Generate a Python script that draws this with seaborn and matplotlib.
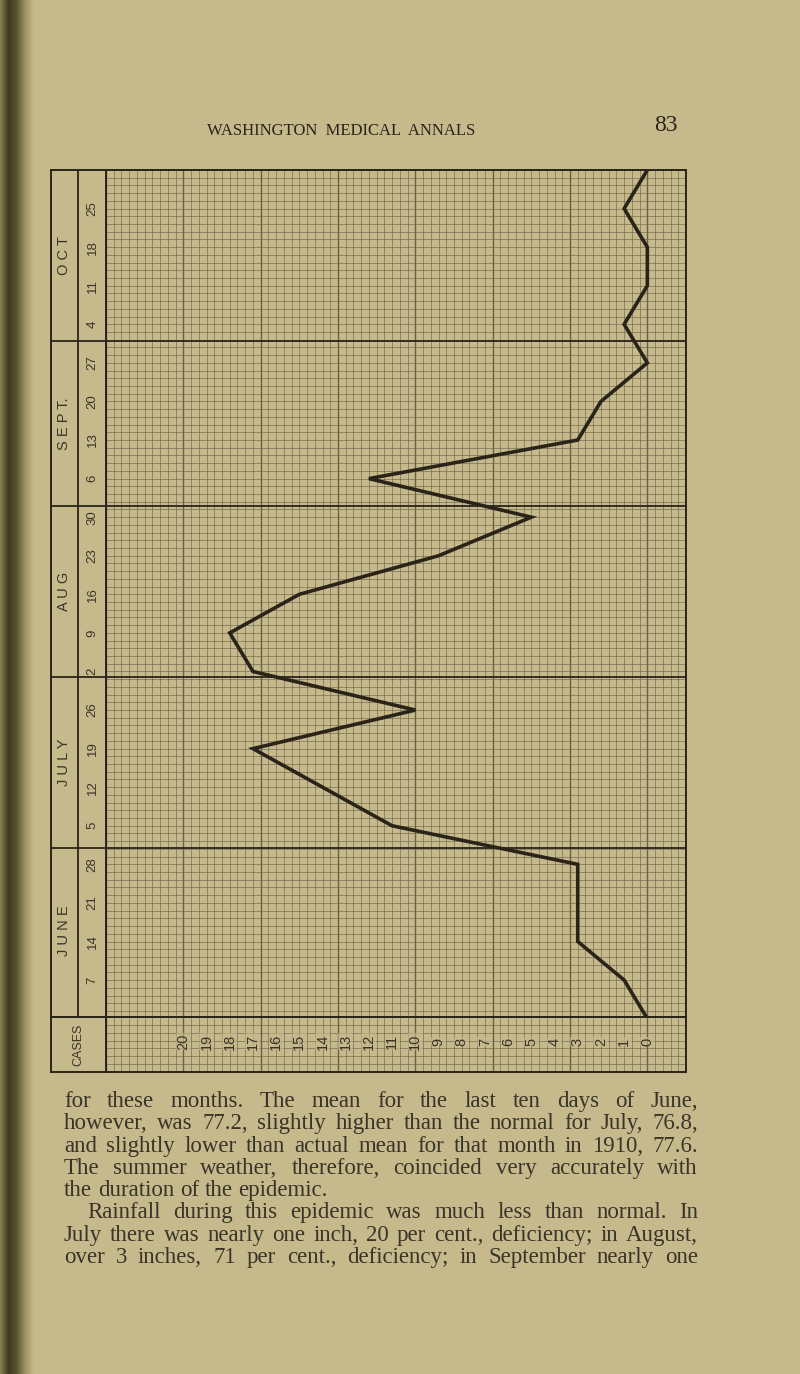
import numpy as np
import pandas as pd
import matplotlib
matplotlib.use('Agg')
import matplotlib.pyplot as plt
import seaborn as sns
from matplotlib.ticker import MultipleLocator
from matplotlib.colors import LinearSegmentedColormap

# weekly cases (time runs bottom -> top)
week_dates = ['1911-05-31', '1911-06-07', '1911-06-14', '1911-06-21', '1911-06-28',
              '1911-07-05', '1911-07-12', '1911-07-19', '1911-07-26',
              '1911-08-02', '1911-08-09', '1911-08-16', '1911-08-23', '1911-08-30',
              '1911-09-06', '1911-09-13', '1911-09-20', '1911-09-27',
              '1911-10-04', '1911-10-11', '1911-10-18', '1911-10-25', '1911-11-01']
weekly_cases = [0, 1, 3, 3, 3, 11, 14, 17, 10, 17, 18, 15, 9, 5, 12, 3, 2, 0, 1, 0, 0, 1, 0]

month_names = ['J U N E', 'J U L Y', 'A U G', 'S E P T.', 'O C T']
month_starts = ['1911-06-01', '1911-07-01', '1911-08-01', '1911-09-01',
                '1911-10-01', '1911-11-01']
case_labels = list(range(20, -1, -1))

header = 'WASHINGTON  MEDICAL  ANNALS'
page_no = '83'
body_lines = [
    'for these months. The mean for the last ten days of June,',
    'however, was 77.2, slightly higher than the normal for July, 76.8,',
    'and slightly lower than actual mean for that month in 1910, 77.6.',
    'The summer weather, therefore, coincided very accurately with',
    'the duration of the epidemic.',
    'Rainfall during this epidemic was much less than normal.  In',
    'July there was nearly one inch, 20 per cent., deficiency; in August,',
    'over 3 inches, 71 per cent., deficiency; in September nearly one',
]

PAPER = '#c6ba8c'
INK = '#2a2318'
GRID = '#6a6146'
TEXT_INK = '#3a3428'

sns.set_theme(style='white')
plt.rcParams['font.family'] = ['Liberation Sans', 'DejaVu Sans']

origin = pd.Timestamp('1911-05-31')
days = (pd.to_datetime(week_dates) - origin).days.values
month_pos = (pd.to_datetime(month_starts) - origin).days.values

W, H = 800, 1374
fig = plt.figure(figsize=(W / 100, H / 100), dpi=100, facecolor=PAPER)


def box(x0, y0, x1, y1):
    return [x0 / W, 1 - y1 / H, (x1 - x0) / W, (y1 - y0) / H]


def fx(px):
    return px / W


def fy(py):
    return 1 - py / H


# binding shadow on the left edge
ax_bind = fig.add_axes([0, 0, 34 / W, 1])
shade = LinearSegmentedColormap.from_list(
    'shade', ['#8a8052', '#3e3a22', '#5c5533', '#9c9262', PAPER])
ax_bind.imshow(np.linspace(0, 1, 60)[None, :], aspect='auto', cmap=shade,
               extent=(0, 1, 0, 1))
ax_bind.axis('off')

# main chart
ax = fig.add_axes(box(106, 170, 686, 1017))
ax.set_facecolor(PAPER)
sns.lineplot(x=weekly_cases, y=days, orient='y', estimator=None, ax=ax,
             color=INK, linewidth=2.6, solid_joinstyle='miter')
ax.set_xlim(23 + 1 / 3, -5 / 3)
ax.set_ylim(0.3, 154)
ax.xaxis.set_minor_locator(MultipleLocator(1 / 3))
ax.xaxis.set_major_locator(MultipleLocator(10 / 3))
ax.yaxis.set_minor_locator(MultipleLocator(1.4))
ax.yaxis.set_major_locator(MultipleLocator(1000))
ax.grid(which='minor', color=GRID, linewidth=0.55, alpha=0.75)
ax.grid(which='major', axis='x', color=GRID, linewidth=1.0)
for m in month_pos[1:-1]:
    ax.axhline(m, color=INK, linewidth=1.3)
ax.tick_params(which='both', length=0, labelbottom=False, labelleft=False)
ax.set_xlabel('')
ax.set_ylabel('')

# month / week columns
ax_l = fig.add_axes(box(51, 170, 106, 1017), sharey=ax)
ax_l.set_facecolor(PAPER)
ax_l.set_xlim(0, 1)
ax_l.axvline(0.49, color=INK, linewidth=1.3)
for m in month_pos[1:-1]:
    ax_l.axhline(m, color=INK, linewidth=1.3)
for name, a, b in zip(month_names, month_pos[:-1], month_pos[1:]):
    ax_l.text(0.24, (a + b) / 2, name, rotation=90, ha='center', va='center',
              fontsize=10.5, color=TEXT_INK)
for d, ds in zip(days[1:-1], week_dates[1:-1]):
    ax_l.text(0.76, d, str(pd.Timestamp(ds).day), rotation=90, ha='center',
              va='center', fontsize=9.5, color=TEXT_INK)
ax_l.tick_params(which='both', length=0, labelbottom=False, labelleft=False)
ax_l.grid(False)

# cases row
ax_c = fig.add_axes(box(106, 1017, 686, 1072), sharex=ax)
ax_c.set_facecolor(PAPER)
ax_c.set_ylim(0, 1)
ax_c.yaxis.set_minor_locator(MultipleLocator(1 / 7))
ax_c.yaxis.set_major_locator(MultipleLocator(10))
ax_c.grid(which='minor', color=GRID, linewidth=0.55, alpha=0.75)
ax_c.grid(which='major', axis='x', color=GRID, linewidth=1.0)
for c in case_labels:
    ax_c.text(c, 0.55, str(c), rotation=90, ha='center', va='center',
              fontsize=10.5, color=TEXT_INK,
              bbox=dict(facecolor=PAPER, edgecolor='none', pad=0.3, alpha=0.6))
ax_c.tick_params(which='both', length=0, labelbottom=False, labelleft=False)

ax_cc = fig.add_axes(box(51, 1017, 106, 1072))
ax_cc.set_facecolor(PAPER)
ax_cc.text(0.5, 0.5, 'CASES', rotation=90, ha='center', va='center',
           fontsize=9, color=TEXT_INK, transform=ax_cc.transAxes)
ax_cc.set_xticks([])
ax_cc.set_yticks([])

for a in (ax, ax_l, ax_c, ax_cc):
    for s in a.spines.values():
        s.set_color(INK)
        s.set_linewidth(1.4)
        s.set_visible(True)

# running head
fig.text(fx(341), fy(135), header, ha='center', va='baseline', fontsize=12,
         family='Liberation Serif', color=INK)
fig.text(fx(666), fy(131), page_no, ha='center', va='baseline', fontsize=17,
         family='Liberation Serif', color=INK)

# body text, justified word by word
BODY = 16.5
renderer = fig.canvas.get_renderer()
line_y = [1107, 1129, 1152, 1174, 1196, 1218, 1241, 1263]
justify = [True, True, True, True, False, True, True, True]
indent = [0, 0, 0, 0, 0, 23, 0, 0]
x_left, x_right = 64, 698
for line, yy, jus, ind in zip(body_lines, line_y, justify, indent):
    words = line.split()
    arts = [fig.text(0, fy(yy), w, fontsize=BODY, family='Liberation Serif',
                     color=TEXT_INK, va='baseline') for w in words]
    widths = [t.get_window_extent(renderer).width for t in arts]
    x0 = x_left + ind
    if jus and len(words) > 1:
        gap = max((x_right - x0 - sum(widths)) / (len(words) - 1), 3.0)
    else:
        gap = BODY * 100 / 72 * 0.25
    x = x0
    for t, w in zip(arts, widths):
        t.set_x(fx(x))
        x += w + gap

fig.savefig('out.png', dpi=100, facecolor=PAPER)
